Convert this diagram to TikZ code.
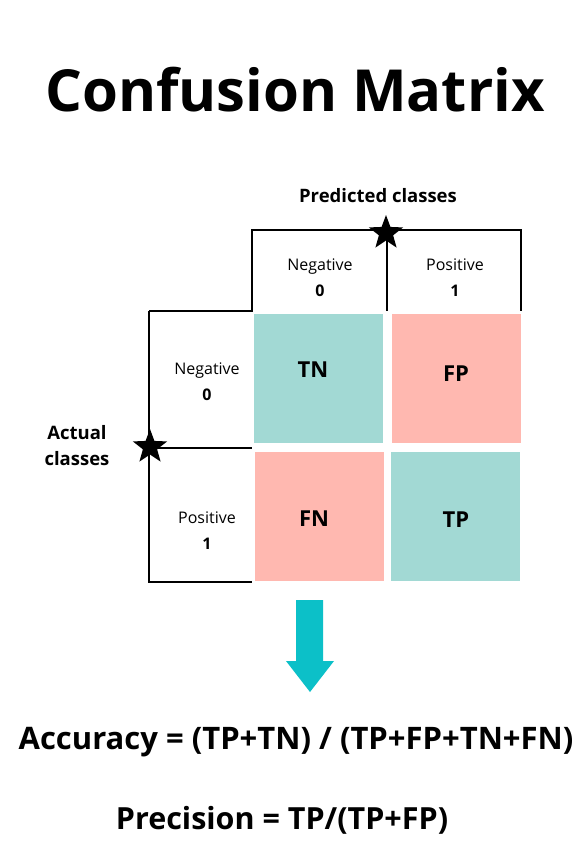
\documentclass[tikz,border=0pt]{standalone}
\usepackage{fontspec}
\setmainfont{Open Sans}
\usetikzlibrary{shapes.geometric}
\definecolor{tealc}{HTML}{A2D9D4}
\definecolor{pinkc}{HTML}{FFB8B0}
\definecolor{arrowc}{HTML}{0CC0C8}
\tikzset{
  px/.style={x=1pt,y=-1pt},
  cell/.style={draw=none,minimum width=129pt,minimum height=129pt,inner sep=0pt},
  celltxt/.style={font=\bfseries\fontsize{22}{26}\selectfont,inner sep=0pt},
  lbl/.style={align=center,font=\fontsize{16}{26}\selectfont,inner sep=0pt},
  hdr/.style={align=center,font=\bfseries\fontsize{18.5}{26}\selectfont,inner sep=0pt},
  frame/.style={line width=1.8pt},
  starn/.style={star,star points=5,star point ratio=2.4,fill=black,minimum size=36pt,inner sep=0pt},
}
\begin{document}
\begin{tikzpicture}[px]
\useasboundingbox (0,0) rectangle (587,853);
\fill[white] (0,0) rectangle (587,853);
% title
\node[font=\bfseries\fontsize{58}{62}\selectfont,inner sep=0pt] (title) at (295,90) {Confusion Matrix};
% frames
\draw[frame] (149,311) -- (252,311) -- (252,230) -- (521,230) -- (521,311);
\draw[frame] (387,230) -- (387,311);
\draw[frame] (149,311) -- (149,582) -- (252,582);
\draw[frame] (149,448) -- (252,448);
% cells
\node[cell,fill=tealc] (tn) at (318.5,378.5) {};
\node[cell,fill=pinkc] (fp) at (456.5,378.5) {};
\node[cell,fill=pinkc] (fn) at (319.5,516) {};
\node[cell,fill=tealc] (tp) at (455.5,516) {};
\node[celltxt] (tnl) at (313,370) {TN};
\node[celltxt] (fpl) at (456,374) {FP};
\node[celltxt] (fnl) at (314,519) {FN};
\node[celltxt] (tpl) at (456,520) {TP};
% stars
\node[starn] (s1) at (386,233) {};
\node[starn] (s2) at (150,447) {};
% labels
\node[hdr] (pred) at (378,196) {Predicted classes};
\node[lbl] (cn) at (320,278) {Negative\\\textbf{0}};
\node[lbl] (cp) at (455,278) {Positive\\\textbf{1}};
\node[lbl] (rn) at (207,382) {Negative\\\textbf{0}};
\node[lbl] (rp) at (207,531) {Positive\\\textbf{1}};
\node[hdr] (act) at (77,446) {Actual\\classes};
% arrow
\fill[arrowc] (296,600) -- (323,600) -- (323,661) -- (334,661) -- (310,692) -- (286,661) -- (296,661) -- cycle;
% formulas
\node[font=\bfseries\fontsize{31}{34}\selectfont,inner sep=0pt] (acc) at (296,742) {Accuracy = (TP+TN) / (TP+FP+TN+FN)};
\node[font=\bfseries\fontsize{30.5}{34}\selectfont,inner sep=0pt] (prec) at (282,820) {Precision = TP/(TP+FP)};
\end{tikzpicture}
\end{document}
